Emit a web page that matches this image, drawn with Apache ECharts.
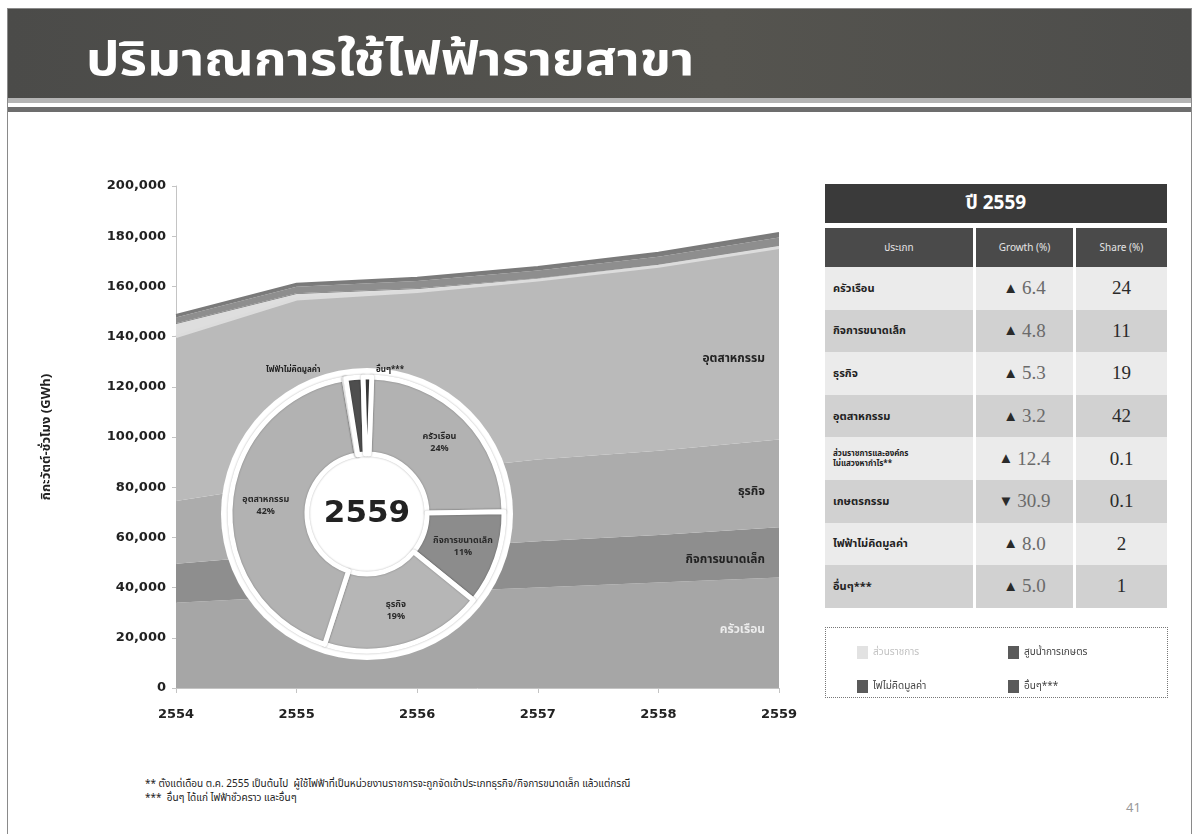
<!DOCTYPE html>
<html>
<head>
<meta charset="utf-8">
<script src="https://cdn.jsdelivr.net/npm/echarts@6/dist/echarts.min.js"></script>
<style>
  body { margin: 0; background: #fff; font-family: 'Noto Sans Thai', 'Noto Sans', 'DejaVu Sans', sans-serif; }
  .page { position: relative; width: 1198px; height: 834px; overflow: hidden; }
  .frame { position: absolute; left: 7px; top: 8px; width: 1183px; height: 840px; border: 1px solid #8a8a8a; }
  .band { position: absolute; left: 8px; top: 9px; width: 1183px; height: 89px; background: linear-gradient(90deg, #4b4b49, #55544f 60%, #4d4d4b); }
  .stripe1 { position: absolute; left: 8px; top: 98px; width: 1183px; height: 5px; background: #b4b4b4; }
  .stripe2 { position: absolute; left: 8px; top: 107px; width: 1183px; height: 5px; background: #6d6d6d; }
  .title { position: absolute; left: 86px; top: 26px; color: #fff; font-size: 46px; font-weight: bold; transform: scaleX(1.15); transform-origin: left top; white-space: nowrap; }
  #chart { position: absolute; left: 0; top: 0; width: 1198px; height: 834px; z-index: 2; }
  .cell { position: absolute; box-sizing: border-box; display: flex; align-items: center; }
  .legbox { position: absolute; left: 825px; top: 627px; width: 341px; height: 69px; border: 1px dotted #777; }
  .note { position: absolute; left: 145px; font-size: 10px; color: #222; }
  .pnum { position: absolute; left: 1126px; top: 798px; font-size: 13px; color: #999; }
</style>
</head>
<body>
<div class="page">
  <div class="frame"></div>
  <div class="band"></div>
  <div class="stripe1"></div>
  <div class="stripe2"></div>
  <div class="title">ปริมาณการใช้ไฟฟ้ารายสาขา</div>
  <div id="table"></div>
  <div class="legbox"></div>
  <div class="note" style="top:776px;">** ตั้งแต่เดือน ต.ค. 2555 เป็นต้นไป &nbsp;ผู้ใช้ไฟฟ้าที่เป็นหน่วยงานราชการจะถูกจัดเข้าประเภทธุรกิจ/กิจการขนาดเล็ก แล้วแต่กรณี</div>
  <div class="note" style="top:790px;">*** &nbsp;อื่นๆ ได้แก่ ไฟฟ้าชั่วคราว และอื่นๆ</div>
  <div class="pnum">41</div>
  <div id="chart"></div>
</div>
<script>
// ปีงบ (พ.ศ.)
const years = ['2554', '2555', '2556', '2557', '2558', '2559'];

// ปริมาณการใช้ไฟฟ้า (GWh) แยกสาขา
const household = [34000, 36500, 38000, 40000, 42000, 44000];
const smallBiz = [15500, 17000, 17500, 18500, 19000, 20000];
const business = [25000, 28500, 30500, 32500, 33500, 35000];
const industry = [65500, 73000, 72000, 71500, 73500, 76500];
const government = [5000, 2000, 1000, 500, 300, 200];
const agriculture = [300, 300, 250, 250, 200, 150];
const freeOfCharge = [2300, 2600, 2900, 3100, 3300, 3600];
const others = [1000, 1200, 1300, 1400, 1600, 1800];

// ตาราง ปี 2559
const tableCats = ['ครัวเรือน', 'กิจการขนาดเล็ก', 'ธุรกิจ', 'อุตสาหกรรม',
  'ส่วนราชการและองค์กร<br>ไม่แสวงหากำไร**', 'เกษตรกรรม', 'ไฟฟ้าไม่คิดมูลค่า', 'อื่นๆ***'];
const growth = [6.4, 4.8, 5.3, 3.2, 12.4, -30.9, 8.0, 5.0];
const share = ['24', '11', '19', '42', '0.1', '0.1', '2', '1'];

// สัดส่วนในวงกลม
const pieNames = ['ครัวเรือน', 'กิจการขนาดเล็ก', 'ธุรกิจ', 'อุตสาหกรรม', 'ส่วนราชการ', 'สูบน้ำการเกษตร', 'ไฟฟ้าไม่คิดมูลค่า', 'อื่นๆ***'];
const pieShare = [24, 11, 19, 42, 0.1, 0.1, 2, 1];

const thai = "'Noto Sans Thai', 'Noto Sans', 'DejaVu Sans', sans-serif";

// ---------- table ----------
const tbl = document.getElementById('table');
function cell(x, y, w, h, bg, html, style) {
  const d = document.createElement('div');
  d.className = 'cell';
  d.style.left = x + 'px'; d.style.top = y + 'px';
  d.style.width = w + 'px'; d.style.height = h + 'px';
  d.style.background = bg;
  d.innerHTML = html;
  Object.assign(d.style, style || {});
  tbl.appendChild(d);
}
const cols = [[825, 148], [976, 97], [1076, 91]];
cell(825, 184, 342, 39, '#3a3a3a', 'ปี 2559', {justifyContent: 'center', color: '#fff', fontSize: '19px', fontWeight: 'bold'});
const heads = ['ประเภท', 'Growth (%)', 'Share (%)'];
heads.forEach((t, i) => cell(cols[i][0], 228, cols[i][1], 39, '#4a4a4a', t,
  {justifyContent: 'center', color: '#e4e4e4', fontSize: '10px'}));
const rowH = 42.6;
tableCats.forEach((c, r) => {
  const y = 267 + r * rowH;
  const bg = r % 2 === 0 ? '#ebebeb' : '#d1d1d1';
  const small = r === 4;
  cell(cols[0][0], y, cols[0][1], rowH, bg, c,
    {paddingLeft: '8px', color: '#222', fontWeight: 'bold', fontSize: small ? '8px' : '11px', lineHeight: small ? '10px' : 'normal'});
  const tri = growth[r] >= 0 ? '▲' : '▼';
  cell(cols[1][0], y, cols[1][1], rowH, bg,
    '<span style="color:#2a2a2a;font-size:15px;margin-right:4px">' + tri + '</span>' + Math.abs(growth[r]).toFixed(1),
    {justifyContent: 'center', color: '#6a6a6a', fontSize: '19px', fontFamily: "'Liberation Serif', serif"});
  cell(cols[2][0], y, cols[2][1], rowH, bg, share[r],
    {justifyContent: 'center', color: '#2a2a2a', fontSize: '19px', fontFamily: "'Liberation Serif', serif"});
});

// ---------- chart ----------
const chart = echarts.init(document.getElementById('chart'));

function area(name, data, color, extra) {
  return Object.assign({
    name: name,
    type: 'line',
    stack: 'total',
    data: data,
    symbol: 'none',
    lineStyle: {width: 0},
    areaStyle: {color: color, opacity: 1},
    itemStyle: {color: color},
    emphasis: {disabled: true},
    z: 2
  }, extra || {});
}

const sliceColors = ['#b2b2b2', '#8c8c8c', '#b6b6b6', '#b2b2b2', '#dedede', '#6a6a6a', '#4e4e4e', '#3a3a3a'];

// legend box: two columns
function legendCol(items, left) {
  return {
    data: items,
    left: left,
    top: 641,
    orient: 'vertical',
    icon: 'rect',
    itemWidth: 11,
    itemHeight: 13,
    itemGap: 21,
    selectedMode: false,
    textStyle: {fontSize: 10, color: '#444', fontFamily: thai}
  };
}
const darkIcon = {color: '#5a5a5a'};

chart.setOption({
  animation: false,
  textStyle: {fontFamily: thai},
  grid: {left: 176, right: 419, top: 186, bottom: 146},
  xAxis: {
    type: 'category',
    data: years,
    boundaryGap: false,
    axisLine: {lineStyle: {color: '#c4c4c4'}},
    axisTick: {show: true, length: 5, lineStyle: {color: '#c4c4c4'}},
    axisLabel: {color: '#222', fontWeight: 'bold', fontSize: 13, margin: 20, fontFamily: 'DejaVu Sans'}
  },
  yAxis: {
    type: 'value',
    min: 0,
    max: 200000,
    interval: 20000,
    name: 'กิกะวัตต์-ชั่วโมง (GWh)',
    nameLocation: 'middle',
    nameGap: 122,
    nameTextStyle: {color: '#222', fontWeight: 'bold', fontSize: 13, fontFamily: thai},
    splitLine: {show: false},
    axisLine: {show: true, lineStyle: {color: '#c4c4c4'}},
    axisTick: {show: true, length: 4, lineStyle: {color: '#c4c4c4'}},
    axisLabel: {
      color: '#222', fontWeight: 'bold', fontSize: 13, margin: 10, fontFamily: 'DejaVu Sans',
      formatter: v => v.toLocaleString('en-US')
    }
  },
  legend: [
    legendCol([
      {name: 'ส่วนราชการ', textStyle: {color: '#c2c2c2'}, itemStyle: {color: '#e2e2e2'}},
      {name: 'ไฟไม่คิดมูลค่า', itemStyle: darkIcon}
    ], 852),
    legendCol([
      {name: 'สูบน้ำการเกษตร', itemStyle: darkIcon},
      {name: 'อื่นๆ***', itemStyle: darkIcon}
    ], 1003)
  ],
  series: [
    area('ครัวเรือน', household, '#a6a6a6'),
    area('กิจการขนาดเล็ก', smallBiz, '#8e8e8e'),
    area('ธุรกิจ', business, '#acacac'),
    area('อุตสาหกรรม', industry, '#bababa', {lineStyle: {width: 3, color: '#dcdcdc'}}),
    area('ส่วนราชการ', government, '#dedede'),
    area('สูบน้ำการเกษตร', agriculture, '#6f6f6f'),
    area('ไฟไม่คิดมูลค่า', freeOfCharge, '#8e8e8e'),
    area('อื่นๆ***', others, '#7c7c7c', {lineStyle: {width: 2, color: '#7a7a7a'}}),
    {
      // white disc under the doughnut
      type: 'pie',
      center: [367, 514],
      radius: [0, 146],
      silent: true,
      z: 5,
      data: [{value: 1, name: 'bg'}],
      itemStyle: {color: '#ffffff'},
      label: {show: true, position: 'center', formatter: '2559', fontSize: 31, fontWeight: 'bold', color: '#222', fontFamily: 'DejaVu Sans'},
      labelLine: {show: false},
      emphasis: {disabled: true}
    },
    {
      type: 'pie',
      center: [367, 514],
      radius: [60, 137],
      startAngle: 88,
      z: 6,
      silent: true,
      legendHoverLink: false,
      data: pieNames.map((n, i) => ({
        name: n,
        value: pieShare[i],
        itemStyle: {color: sliceColors[i]},
        label: {show: i < 4}
      })),
      itemStyle: {borderColor: '#fff', borderWidth: 5, shadowBlur: 2, shadowColor: 'rgba(0,0,0,0.3)'},
      label: {
        position: 'inside',
        formatter: p => p.name + '\n' + p.value + '%',
        fontSize: 9,
        fontWeight: 'bold',
        color: '#2a2a2a',
        lineHeight: 12,
        fontFamily: thai
      },
      labelLine: {show: false},
      emphasis: {disabled: true}
    }
  ],
  graphic: [
    {type: 'text', right: 1198 - 765, top: 354, z: 10, style: {text: 'อุตสาหกรรม', fill: '#222', font: 'bold 12px ' + thai}},
    {type: 'text', right: 1198 - 765, top: 487, z: 10, style: {text: 'ธุรกิจ', fill: '#222', font: 'bold 12px ' + thai}},
    {type: 'text', right: 1198 - 765, top: 555, z: 10, style: {text: 'กิจการขนาดเล็ก', fill: '#222', font: 'bold 12px ' + thai}},
    {type: 'text', right: 1198 - 765, top: 625, z: 10, style: {text: 'ครัวเรือน', fill: '#ececec', font: 'bold 12px ' + thai}},
    {type: 'text', left: 266, top: 366, z: 10, style: {text: 'ไฟฟ้าไม่คิดมูลค่า', fill: '#222', font: 'bold 8px ' + thai}},
    {type: 'text', left: 376, top: 366, z: 10, style: {text: 'อื่นๆ***', fill: '#222', font: 'bold 8px ' + thai}}
  ]
});
</script>
</body>
</html>
